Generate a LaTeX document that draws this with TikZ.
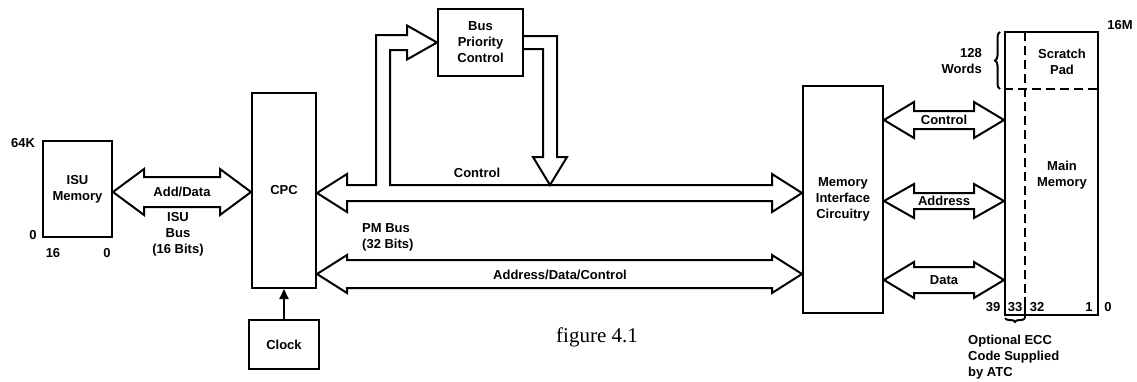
\documentclass[tikz,border=0pt]{standalone}
\usepackage{fontspec}
\setmainfont{Liberation Sans}
\newfontfamily\figserif{Liberation Serif}
\usetikzlibrary{arrows.meta,calc,decorations.pathreplacing}
\newcommand\lblfont{\fontsize{13}{16}\selectfont\bfseries}
\newcommand\dbus[5]{%
  \draw[bus] (#1) -- ($(#1)+(#5,-#4)$) -- ($(#1)+(#5,-#3)$) -- ($(#2)+(-#5,-#3)$) -- ($(#2)+(-#5,-#4)$) -- (#2)
   -- ($(#2)+(-#5,#4)$) -- ($(#2)+(-#5,#3)$) -- ($(#1)+(#5,#3)$) -- ($(#1)+(#5,#4)$) -- cycle;}
\begin{document}
\begin{tikzpicture}[x=1pt,y=-1pt,
  lw/.style={line width=2pt},
  box/.style={draw,lw,inner sep=0pt,align=center,font=\lblfont},
  bus/.style={lw,line join=miter},
  lbl/.style={font=\lblfont,align=center,inner sep=0pt},
  dashline/.style={lw,dash pattern=on 9pt off 5pt},
  brc/.style={lw,decorate,decoration={brace,amplitude=5pt}},
]
\fill[white] (0,0) rectangle (1137,381);
\useasboundingbox (0,0) rectangle (1137,381);

% blocks
\node[box,minimum width=69pt,minimum height=96pt] (isu) at (77.5,189) {ISU\\Memory};
\node[box,minimum width=64pt,minimum height=195pt] (cpc) at (284,190.5) {CPC};
\node[box,minimum width=70pt,minimum height=49pt] (clock) at (284,344.5) {Clock};
\node[box,minimum width=85pt,minimum height=67pt] (bpc) at (480.5,42.5) {Bus\\Priority\\Control};
\node[box,minimum width=80pt,minimum height=227pt] (mic) at (843,199.5) {Memory\\Interface\\Circuitry};
\node[box,minimum width=93pt,minimum height=283pt] (mem) at (1051.5,173.5) {};

% ISU memory labels
\node[lbl] (l64k) at (23,143) {64K};
\node[lbl] (l0a) at (33,235) {0};
\node[lbl] (l16) at (53,253) {16};
\node[lbl] (l0b) at (107,253) {0};

% ISU bus
\coordinate (ia) at (isu.east |- 0,192);
\coordinate (ib) at (cpc.west |- 0,192);
\dbus{ia}{ib}{15}{23}{31}
\node[lbl] (adddata) at ($(ia)!0.5!(ib)$) {Add/Data};
\node[lbl] (isubus) at (178,234) {ISU\\Bus\\(16 Bits)};

% clock arrow
\draw[lw,-{Triangle[width=9pt,length=10pt]}] (clock.north) -- (cpc.south);

% upper (control) bus with branch to bus priority control
\coordinate (L) at (cpc.east |- 0,193);
\coordinate (R) at (mic.west |- 0,193);
\coordinate (B) at (bpc.west);
\draw[bus] (L) -- ($(L)+(30,-19)$) -- ($(L)+(30,-8)$) -- (376,185) -- (376,35)
  -- ($(B)+(-30,-7.5)$) -- ($(B)+(-30,-17)$) -- (B) -- ($(B)+(-30,17)$) -- ($(B)+(-30,7.5)$)
  -- (390,50) -- (390,185) -- ($(R)+(-30,-8)$) -- ($(R)+(-30,-19)$) -- (R)
  -- ($(R)+(-30,19)$) -- ($(R)+(-30,8)$) -- ($(L)+(30,8)$) -- ($(L)+(30,19)$) -- cycle;
\node[lbl] (ctl) at (477,173) {Control};

% down arrow from bus priority control
\coordinate (D) at (bpc.east);
\draw[bus] ($(D)+(0,-6.5)$) -- (557,36) -- (557,157) -- (567,157) -- (550,185)
  -- (533,157) -- (543,157) -- (543,49) -- ($(D)+(0,6.5)$);

% PM bus
\coordinate (pa) at (cpc.east |- 0,274);
\coordinate (pb) at (mic.west |- 0,274);
\dbus{pa}{pb}{14}{19}{30}
\node[lbl] (adc) at (560,275) {Address/Data/Control};
\node[lbl,align=left,anchor=west] (pmbus) at (362,237) {PM Bus\\(32 Bits)};

% memory side buses
\coordinate (ca) at (mic.east |- 0,120);
\coordinate (cb) at (mem.west |- 0,120);
\dbus{ca}{cb}{9}{18}{30}
\node[lbl] (mctl) at ($(ca)!0.5!(cb)$) {Control};
\coordinate (aa) at (mic.east |- 0,201);
\coordinate (ab) at (mem.west |- 0,201);
\dbus{aa}{ab}{8}{17}{30}
\node[lbl] (maddr) at ($(aa)!0.5!(ab)$) {Address};
\coordinate (da) at (mic.east |- 0,280);
\coordinate (db) at (mem.west |- 0,280);
\dbus{da}{db}{13}{18}{30}
\node[lbl] (mdata) at ($(da)!0.5!(db)$) {Data};

% main memory details
\draw[dashline] (mem.west |- 0,89) -- (mem.east |- 0,89);
\draw[dashline] (1025,32) -- (1025,293);
\draw[lw] (1025,297) -- (1025,318);
\node[lbl] (scr) at (1062,61.5) {Scratch\\Pad};
\node[lbl] (mainm) at (1062,175) {Main\\Memory};
\node[lbl] (l16m) at (1120,25) {16M};
\node[lbl,align=right,anchor=east] (w128) at (982,61.5) {128\\Words};
\draw[brc] (1000,89) -- (1000,32);
\node[lbl] (b39) at (993,307) {39};
\node[lbl] (b33) at (1015,307) {33};
\node[lbl] (b32) at (1037,307) {32};
\node[lbl] (b1) at (1089,307) {1};
\node[lbl] (b0) at (1108,307) {0};
\draw[brc,decoration={amplitude=4pt}] (1025,318) -- (1005,318);
\node[lbl,align=left,anchor=west] (ecc) at (968,357.5) {Optional ECC\\Code Supplied\\by ATC};

% caption
\node[font=\figserif\fontsize{21}{24}\selectfont,inner sep=0pt] (cap) at (597,337) {figure 4.1};
\end{tikzpicture}
\end{document}
